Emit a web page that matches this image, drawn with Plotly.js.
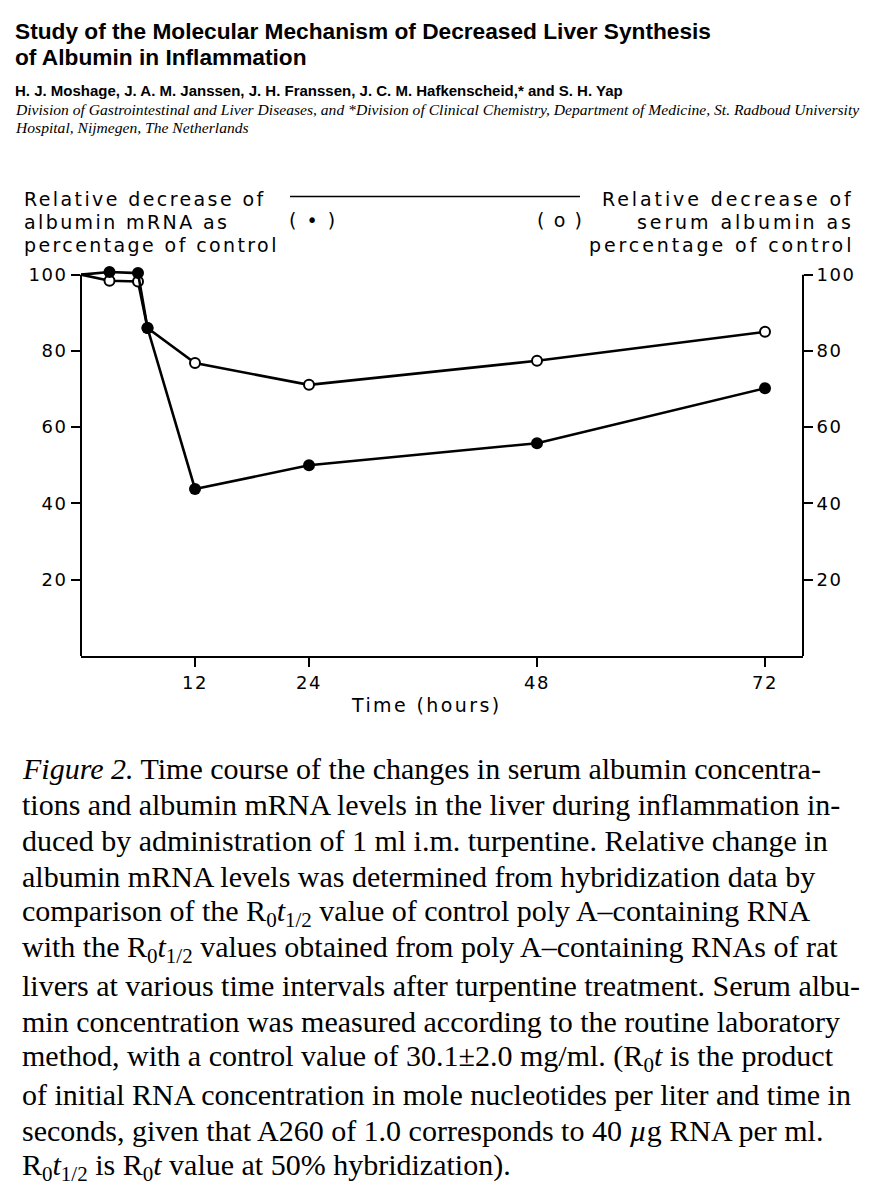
<!DOCTYPE html>
<html>
<head>
<meta charset="utf-8">
<script src="https://cdn.plot.ly/plotly-3.0.1.min.js"></script>
<style>html,body{margin:0;padding:0;background:#fff;}#chart{width:872px;height:1200px;}</style>
</head>
<body>
<div id="chart"></div>
<script>
// ---- data ----
const timeHours = [0, 3, 6, 7, 12, 24, 48, 72];
const mrnaPct = [100, 100.7, 100.4, 86, 43.8, 50, 55.8, 70.2];   // filled circles
const serumPct = [100, 98.4, 98.2, 86, 76.8, 71.1, 77.4, 85.0]; // open circles
const xTicks = [12, 24, 48, 72];
const yTicks = [20, 40, 60, 80, 100];

const titleLines = ["Study of the Molecular Mechanism of Decreased Liver Synthesis", "of Albumin in Inflammation"];
const authors = "H. J. Moshage, J. A. M. Janssen, J. H. Franssen, J. C. M. Hafkenscheid,* and S. H. Yap";
const affiliation = ["Division of Gastrointestinal and Liver Diseases, and *Division of Clinical Chemistry, Department of Medicine, St. Radboud University", "Hospital, Nijmegen, The Netherlands"];
const leftLabel = ["Relative decrease of", "albumin mRNA as", "percentage of control"];
const rightLabel = ["Relative decrease of", "serum albumin as", "percentage of control"];
const xTitle = "Time (hours)";
const captionLines = [
  "<i>Figure 2.</i> Time course of the changes in serum albumin concentra-",
  "tions and albumin mRNA levels in the liver during inflammation in-",
  "duced by administration of 1 ml i.m. turpentine. Relative change in",
  "albumin mRNA levels was determined from hybridization data by",
  "comparison of the R<sub>0</sub><i>t</i><sub>1/2</sub> value of control poly A–containing RNA",
  "with the R<sub>0</sub><i>t</i><sub>1/2</sub> values obtained from poly A–containing RNAs of rat",
  "livers at various time intervals after turpentine treatment. Serum albu-",
  "min concentration was measured according to the routine laboratory",
  "method, with a control value of 30.1±2.0 mg/ml. (R<sub>0</sub><i>t</i> is the product",
  "of initial RNA concentration in mole nucleotides per liter and time in",
  "seconds, given that A260 of 1.0 corresponds to 40 <i>µ</i>g RNA per ml.",
  "R<sub>0</sub><i>t</i><sub>1/2</sub> is R<sub>0</sub><i>t</i> value at 50% hybridization)."
];

// ---- geometry (pixels) ----
const W = 872, H = 1200;
const yMax = 102;
const L = 81, R = 803, B = 656, T = 656 - 3.81 * yMax;
const px = x => (x - L) / (R - L);
const py = y => (B - y) / (B - T);
const sp = (s, ls) => '<span style="letter-spacing:' + ls + 'px">' + s + '</span>';

const axFont = {family: "DejaVu Sans", size: 18, color: "#000"};
const labFont = {family: "DejaVu Sans", size: 19, color: "#000"};
const LS = 2.4;

const traces = [
  {x: timeHours, y: serumPct, mode: "lines+markers", cliponaxis: false,
   line: {color: "#000", width: 2.6},
   marker: {symbol: "circle", size: timeHours.map(t => t === 0 ? 0 : 10), color: "#fff", opacity: 1, line: {color: "#000", width: 2}},
   hoverinfo: "skip"},
  {x: timeHours, y: mrnaPct, mode: "lines+markers", cliponaxis: false,
   line: {color: "#000", width: 2.6},
   marker: {symbol: "circle", size: timeHours.map(t => t === 0 ? 0 : 12), color: "#000", opacity: 1, line: {width: 0}},
   hoverinfo: "skip"},
  {x: [0], y: [0], yaxis: "y2", mode: "markers", marker: {size: 0, opacity: 0}, hoverinfo: "skip"}
];

const ann = [];
function txt(text, x, y, font, align, anchor, yanchor) {
  ann.push({text: text, xref: "paper", yref: "paper", x: px(x), y: py(y), showarrow: false,
    font: font, align: align || "left", xanchor: anchor || "left", yanchor: yanchor || "middle"});
}
const titleFont = {family: "Liberation Sans", size: 22.7, color: "#000"};
txt("<b>" + titleLines[0] + "</b>", 13, 32, titleFont);
txt("<b>" + titleLines[1] + "</b>", 13, 58, titleFont);
txt("<b>" + authors + "</b>", 13, 91, {family: "Liberation Sans", size: 15, color: "#000"});
txt("<i>" + affiliation[0] + "</i>", 13, 110, {family: "Liberation Serif", size: 15.6, color: "#000"});
txt("<i>" + affiliation[1] + "</i>", 13, 128, {family: "Liberation Serif", size: 15.6, color: "#000"});

leftLabel.forEach((s, i) => txt(sp(s, LS), 22, 199 + i * 23, labFont));
rightLabel.forEach((s, i) => txt(sp(s, 2.9), 856, 199 + i * 23, labFont, "right", "right"));
txt(sp("( • )", 2), 287, 220, labFont);
txt(sp("( o )", 1.6), 535, 220, labFont);
txt(sp(xTitle, LS), 426, 705, labFont, "center", "center");

const capFont = {family: "Liberation Serif", size: 30, color: "#000"};
captionLines.forEach((s, i) => txt(s, 20, 768 + i * 36.2, capFont));

const axisCommon = {
  range: [0, yMax], tickvals: yTicks, ticktext: yTicks.map(v => sp(String(v), 1.5)),
  ticks: "outside", ticklen: 9, tickwidth: 2, tickcolor: "#000",
  showline: false, showgrid: false, zeroline: false,
  tickfont: axFont, fixedrange: true
};

const layout = {
  width: W, height: H,
  margin: {l: L, r: W - R, t: T, b: H - B, pad: 0},
  paper_bgcolor: "#fff", plot_bgcolor: "#fff",
  showlegend: false,
  xaxis: {range: [0, 76], tickvals: xTicks, ticktext: xTicks.map(v => sp(String(v), 1.5)),
    ticks: "outside", ticklen: 9, tickwidth: 2, tickcolor: "#000",
    showline: true, linecolor: "#000", linewidth: 2, showgrid: false, zeroline: false, tickfont: axFont},
  yaxis: Object.assign({}, axisCommon, {side: "left"}),
  yaxis2: Object.assign({}, axisCommon, {side: "right", overlaying: "y"}),
  annotations: ann,
  shapes: [
    {type: "line", xref: "paper", yref: "paper", x0: px(290), x1: px(580), y0: py(197), y1: py(197),
     line: {color: "#000", width: 1.5}},
    {type: "line", xref: "paper", yref: "y", x0: 0, x1: 0, y0: 0, y1: 100, line: {color: "#000", width: 2}},
    {type: "line", xref: "paper", yref: "y", x0: 1, x1: 1, y0: 0, y1: 100, line: {color: "#000", width: 2}}
  ]
};

Plotly.newPlot("chart", traces, layout, {staticPlot: true, displayModeBar: false});
</script>
</body>
</html>
